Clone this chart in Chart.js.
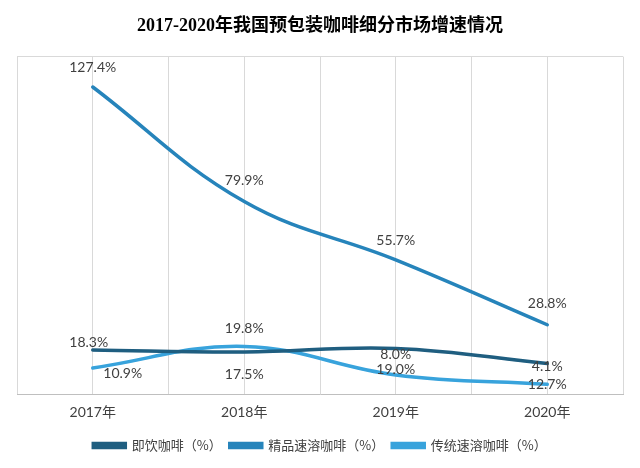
<!DOCTYPE html>
<html>
<head>
<meta charset="utf-8">
<script src="https://cdn.jsdelivr.net/npm/chart.js@4/dist/chart.umd.min.js"></script>
<style>
  html, body { margin: 0; padding: 0; background: #fff; }
  #wrap { width: 640px; height: 468px; }
</style>
</head>
<body>
<div id="wrap"><canvas id="c" width="640" height="468"></canvas></div>
<script>
// ── Data ──────────────────────────────────────────────────────────
const YEARS       = ['2017年', '2018年', '2019年', '2020年'];
const SERIES_NAME = ['即饮咖啡（%）', '精品速溶咖啡（%）', '传统速溶咖啡（%）'];
const READY_TO_DRINK = [18.3, 17.5, 19.0, 12.7];
const PREMIUM_INSTANT = [127.4, 79.9, 55.7, 28.8];
const CLASSIC_INSTANT = [10.9, 19.8, 8.0, 4.1];

// styling (kept apart from the values)
const LINE_COLORS = ['#1F5E80', '#2684BB', '#38A3DC'];
const SHINE_COLORS = ['#A8C6D6', '#BFDDEF', '#C8E6F7'];
// data label offsets [dx, dy] per point
const LABEL_OFFSETS = [
  [[-4, -8], [0, 22], [0, 21], [0, 21]],
  [[0, -19], [0, -21], [0, -19], [0, -21]],
  [[30, 6], [0, -18], [0, -20], [0, -18]],
];

const SERIES_DATA = [READY_TO_DRINK, PREMIUM_INSTANT, CLASSIC_INSTANT];
const toPoints = arr => arr.map((v, i) => ({ x: i, y: v }));

const datasets = [];
SERIES_DATA.forEach((arr, i) => {
  datasets.push({
    label: SERIES_NAME[i],
    data: toPoints(arr),
    borderColor: LINE_COLORS[i],
    backgroundColor: LINE_COLORS[i],
    borderWidth: 3.5,
    borderCapStyle: 'round',
    pointRadius: 0,
    tension: 0.4,
    seriesIndex: i,
  });
});
SERIES_DATA.forEach((arr, i) => {
  datasets.push({
    label: '_shine' + i,
    data: toPoints(arr),
    borderColor: SHINE_COLORS[i],
    borderWidth: 1,
    pointRadius: 0,
    tension: 0.4,
    shine: true,
  });
});

// thin highlight stripe slightly below each line's centre
const shinePlugin = {
  id: 'shine',
  beforeDatasetDraw(chart, args) {
    if (chart.data.datasets[args.index].shine) {
      chart.ctx.save();
      chart.ctx.translate(0, 0.8);
    }
  },
  afterDatasetDraw(chart, args) {
    if (chart.data.datasets[args.index].shine) chart.ctx.restore();
  }
};

const labelPlugin = {
  id: 'valueLabels',
  afterDatasetsDraw(chart) {
    const ctx = chart.ctx;
    ctx.save();
    ctx.font = '14px Lato, "Noto Sans CJK SC", sans-serif';
    ctx.fillStyle = '#404040';
    ctx.textAlign = 'center';
    ctx.textBaseline = 'middle';
    chart.data.datasets.forEach((ds, di) => {
      if (ds.shine) return;
      const meta = chart.getDatasetMeta(di);
      meta.data.forEach((pt, j) => {
        const off = LABEL_OFFSETS[ds.seriesIndex][j];
        ctx.fillText(ds.data[j].y.toFixed(1) + '%', pt.x + off[0], pt.y + off[1]);
      });
    });
    ctx.restore();
  }
};

new Chart(document.getElementById('c').getContext('2d'), {
  type: 'line',
  data: { datasets },
  plugins: [shinePlugin, labelPlugin],
  options: {
    responsive: false,
    animation: false,
    layout: { padding: { left: 17, right: 17, bottom: 6 } },
    scales: {
      x: {
        type: 'linear',
        min: -0.5, max: 3.5,
        grid: { color: '#d9d9d9', drawTicks: false },
        border: { color: '#bfbfbf' },
        ticks: {
          stepSize: 0.5, autoSkip: false, maxRotation: 0, padding: 10,
          color: '#404040',
          font: { size: 14, family: 'Lato, "Noto Sans CJK SC", sans-serif' },
          callback: v => Number.isInteger(v) && v >= 0 && v < YEARS.length ? YEARS[v] : ''
        }
      },
      y: {
        min: 0, max: 140,
        ticks: { display: false, stepSize: 140 },
        border: { display: false },
        grid: {
          drawTicks: false,
          color: c => c.tick && c.tick.value === 140 ? '#d9d9d9' : 'rgba(0,0,0,0)'
        }
      }
    },
    plugins: {
      title: {
        display: true,
        text: '2017-2020年我国预包装咖啡细分市场增速情况',
        color: '#000',
        font: { size: 18, weight: 'bold', family: '"Liberation Serif", "Noto Sans CJK SC", serif' },
        padding: { top: 16, bottom: 19 }
      },
      legend: {
        position: 'bottom',
        labels: {
          boxWidth: 32, boxHeight: 4, padding: 8,
          color: '#404040',
          font: { size: 13, family: '"Noto Sans CJK SC", sans-serif' },
          filter: item => !item.text.startsWith('_shine')
        }
      },
      tooltip: { enabled: false }
    }
  }
});
</script>
</body>
</html>
